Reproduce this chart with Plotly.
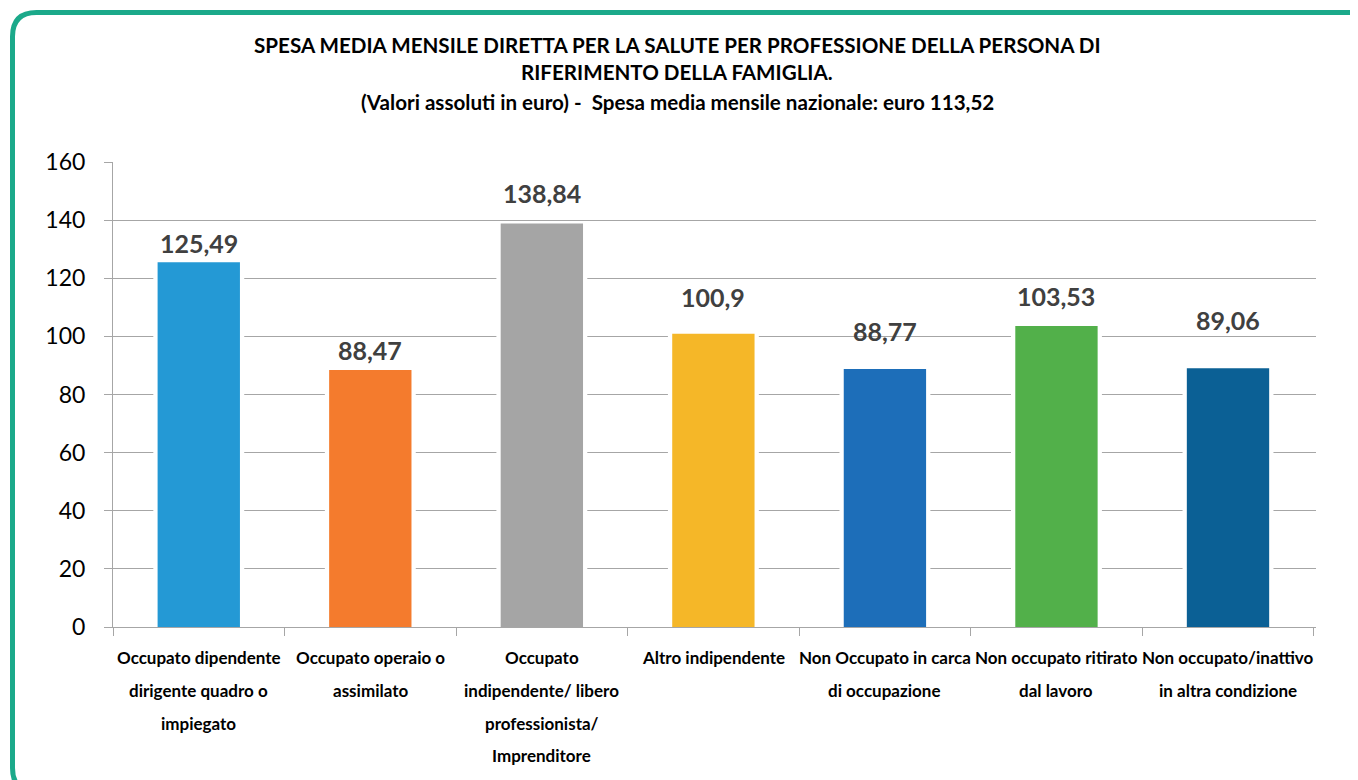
import plotly.graph_objects as go

# ---- data ----
categories = [
    "Occupato dipendente dirigente quadro o impiegato",
    "Occupato operaio o assimilato",
    "Occupato indipendente/ libero professionista/ Imprenditore",
    "Altro indipendente",
    "Non Occupato in carca di occupazione",
    "Non occupato ritirato dal lavoro",
    "Non occupato/inattivo in altra condizione",
]
category_lines = [
    ["Occupato dipendente", "dirigente quadro o", "impiegato"],
    ["Occupato operaio o", "assimilato"],
    ["Occupato", "indipendente/ libero", "professionista/", "Imprenditore"],
    ["Altro indipendente"],
    ["Non Occupato in carca", "di occupazione"],
    ["Non occupato ritirato", "dal lavoro"],
    ["Non occupato/inattivo", "in altra condizione"],
]
values = [125.49, 88.47, 138.84, 100.9, 88.77, 103.53, 89.06]
value_labels = ["125,49", "88,47", "138,84", "100,9", "88,77", "103,53", "89,06"]
y_ticks = [0, 20, 40, 60, 80, 100, 120, 140, 160]
title_lines = [
    "SPESA MEDIA MENSILE DIRETTA PER LA SALUTE PER PROFESSIONE DELLA PERSONA DI",
    "RIFERIMENTO DELLA FAMIGLIA.",
    "(Valori assoluti in euro) -  Spesa media mensile nazionale: euro 113,52",
]

# ---- styles ----
colors = ["#2499D5", "#F47B2D", "#A5A5A5", "#F5B728", "#1D6EB9", "#52B04A", "#0B6095"]
label_offsets = [17, 18, 29, 35, 36, 28, 46]   # px above bar top
OFF = 8                      # page body margin
W, H = 1358 - OFF, 780 - OFF
L, T = 113 - OFF, 162 - OFF
PW, PH = 1316 - 113, 627 - 162
R, B = W - L - PW, H - T - PH
FONT = "Lato"

def px_x(x):
    return (x - OFF - L) / PW

def px_y(y):
    return (T + PH - (y - OFF)) / PH

fig = go.Figure()
# white halo bars (interrupt gridlines around bars)
fig.add_trace(go.Bar(x=categories, y=values, width=0.53,
                     marker=dict(color="white", line=dict(width=0)),
                     hoverinfo="skip", showlegend=False))
fig.add_trace(go.Bar(x=categories, y=values, width=0.48,
                     marker=dict(color=colors, line=dict(width=0)),
                     showlegend=False))

annotations = []
for c, v, t, off in zip(categories, values, value_labels, label_offsets):
    annotations.append(dict(x=c, y=v, xref="x", yref="y", text=t, showarrow=False,
                            yanchor="middle", yshift=off + 2,
                            font=dict(family=FONT, size=25, color="#404040", weight="bold")))
line_shifts = [30, 63, 96, 128]
for c, lines in zip(categories, category_lines):
    for j, ln in enumerate(lines):
        annotations.append(dict(x=c, y=0, xref="x", yref="paper", text=ln, showarrow=False,
                                yanchor="middle", yshift=-line_shifts[j],
                                font=dict(family=FONT, size=17, color="#000000", weight="bold")))
title_y = [45, 72, 102]
for ln, ty in zip(title_lines, title_y):
    annotations.append(dict(x=px_x(677), y=px_y(ty), xref="paper", yref="paper", text=ln,
                            showarrow=False, xanchor="center", yanchor="middle",
                            font=dict(family=FONT, size=20.6, color="#000000", weight="bold")))

# rounded border
x0, y0, x1, y1, r = 12.5, 12.5, 1373, 792, 24
def P(x, y):
    return f"{px_x(x):.5f},{px_y(y):.5f}"
path = (f"M {P(x0 + r, y0)} L {P(x1 - r, y0)} Q {P(x1, y0)} {P(x1, y0 + r)} "
        f"L {P(x1, y1 - r)} Q {P(x1, y1)} {P(x1 - r, y1)} "
        f"L {P(x0 + r, y1)} Q {P(x0, y1)} {P(x0, y1 - r)} "
        f"L {P(x0, y0 + r)} Q {P(x0, y0)} {P(x0 + r, y0)} Z")
shapes = [dict(type="path", xref="paper", yref="paper", path=path,
               line=dict(color="#1BA98A", width=5), fillcolor="rgba(0,0,0,0)", layer="below")]

fig.update_layout(
    width=W, height=H,
    margin=dict(l=L, r=R, t=T, b=B, autoexpand=False),
    paper_bgcolor="white", plot_bgcolor="white",
    barmode="overlay", bargap=0.5,
    annotations=annotations, shapes=shapes,
    font=dict(family=FONT),
)
fig.update_xaxes(type="category", showticklabels=False, showline=True, linecolor="#A6A6A6",
                 linewidth=1, ticks="outside", tickson="boundaries", ticklen=8,
                 tickcolor="#A6A6A6", showgrid=False, fixedrange=True)
fig.update_yaxes(range=[0, 160], tickvals=y_ticks, showline=True, linecolor="#A6A6A6",
                 linewidth=1, ticks="outside", ticklen=8, tickcolor="#A6A6A6",
                 showgrid=True, gridcolor="#A6A6A6", gridwidth=1, zeroline=False,
                 ticklabelstandoff=14,
                 tickfont=dict(family=FONT, size=23, color="#000000"))

fig.write_html("out.html")
